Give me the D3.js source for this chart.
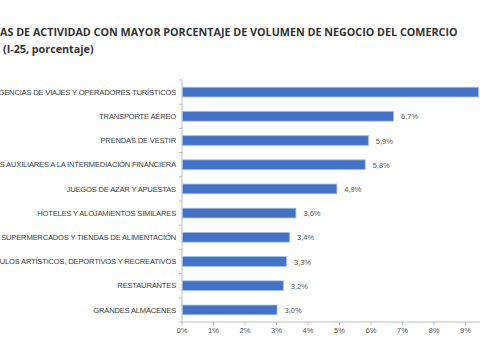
<!DOCTYPE html>
<html><head><meta charset="utf-8">
<script src="https://cdn.jsdelivr.net/npm/d3@7"></script>
<style>body{margin:0;background:#fff;overflow:hidden}svg{display:block}</style>
</head><body>
<script>
const categories = [
  "AGENCIAS DE VIAJES Y OPERADORES TURÍSTICOS",
  "TRANSPORTE AÉREO",
  "PRENDAS DE VESTIR",
  "ACTIVIDADES AUXILIARES A LA INTERMEDIACIÓN FINANCIERA",
  "JUEGOS DE AZAR Y APUESTAS",
  "HOTELES  Y ALOJAMIENTOS SIMILARES",
  "SUPERMERCADOS Y TIENDAS DE ALIMENTACIÓN",
  "ESPECTÁCULOS ARTÍSTICOS, DEPORTIVOS Y RECREATIVOS",
  "RESTAURANTES",
  "GRANDES ALMACENES"
];
const values = [9.4, 6.7, 5.9, 5.8, 4.9, 3.6, 3.4, 3.3, 3.2, 3.0];
const tickValues = [0,1,2,3,4,5,6,7,8,9];
const titleLine1 = "AS DE ACTIVIDAD CON MAYOR PORCENTAJE DE VOLUMEN DE NEGOCIO DEL COMERCIO";
const titleLine2 = "(I-25, porcentaje)";

const W = 480, H = 360;
const svg = d3.select("body").append("svg").attr("width", W).attr("height", H);

svg.append("text").attr("x", 0).attr("y", 36)
  .attr("font-family", "Open Sans").attr("font-weight", "bold").attr("font-size", 10.75)
  .attr("fill", "#333").text(titleLine1);
svg.append("text").attr("x", 3).attr("y", 53)
  .attr("font-family", "Open Sans").attr("font-weight", "bold").attr("font-size", 10.75)
  .attr("fill", "#333").text(titleLine2);

const x0 = 182, pxPer = 31.5;
const x = d3.scaleLinear().domain([0, 10]).range([x0, x0 + 10 * pxPer]);
const y = d3.scaleBand().domain(categories).range([80, 322]).paddingInner(0.6).paddingOuter(0.3);

const axisColor = "#bfbfbf";
svg.append("line").attr("x1", x0).attr("x2", x0).attr("y1", 80).attr("y2", 322)
  .attr("stroke", axisColor).attr("stroke-width", 1);
const boundaries = d3.range(categories.length + 1).map(i => 80 + i * (242 / categories.length));
svg.selectAll("line.ytick").data(boundaries).join("line").attr("class", "ytick")
  .attr("x1", x0 - 3).attr("x2", x0).attr("y1", d => d).attr("y2", d => d)
  .attr("stroke", axisColor);
svg.append("line").attr("x1", x0).attr("x2", W).attr("y1", 322).attr("y2", 322)
  .attr("stroke", axisColor);
svg.selectAll("line.xtick").data(tickValues).join("line").attr("class", "xtick")
  .attr("x1", d => x(d)).attr("x2", d => x(d)).attr("y1", 322).attr("y2", 325)
  .attr("stroke", axisColor);
svg.selectAll("text.xlab").data(tickValues).join("text").attr("class", "xlab")
  .attr("x", d => x(d)).attr("y", 333).attr("text-anchor", "middle")
  .attr("font-family", "Liberation Sans, Arial").attr("font-size", 7.5).attr("fill", "#595959")
  .text(d => d + "%");

svg.selectAll("rect.bar").data(values).join("rect").attr("class", "bar")
  .attr("x", x0 + 0.5).attr("y", (d, i) => y(categories[i]))
  .attr("width", d => x(d) - x0).attr("height", y.bandwidth())
  .attr("fill", "#4472c4").attr("stroke", "#9dbbe3").attr("stroke-width", 0.8);

const fmt = d => d.toFixed(1).replace(".", ",") + "%";
const shown = values.map((v, i) => ({v, c: categories[i]})).filter(d => x(d.v) + 24 < W);
svg.selectAll("text.val").data(shown).join("text").attr("class", "val")
  .attr("x", d => x(d.v) + 8).attr("y", d => y(d.c) + y.bandwidth() / 2 + 3)
  .attr("font-family", "Liberation Sans, Arial").attr("font-size", 7.5).attr("fill", "#595959")
  .text(d => fmt(d.v));

svg.selectAll("text.cat").data(categories).join("text").attr("class", "cat")
  .attr("x", 176).attr("y", d => y(d) + y.bandwidth() / 2 + 2.7)
  .attr("text-anchor", "end")
  .attr("font-family", "Liberation Sans, Arial").attr("font-size", 7.6).attr("fill", "#404040")
  .attr("letter-spacing", -0.2)
  .text(d => d);
</script>
</body></html>
